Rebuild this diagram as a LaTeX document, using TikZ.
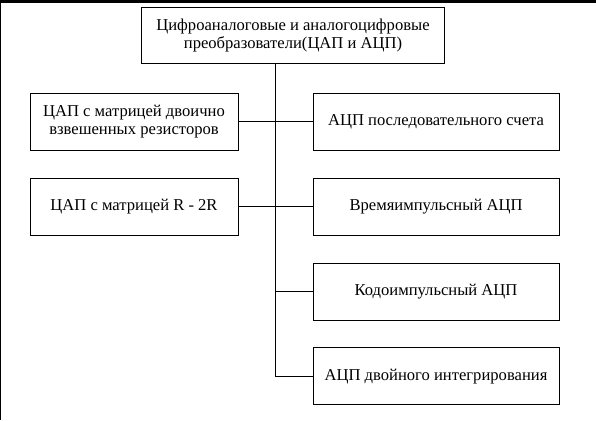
\documentclass[tikz,border=0pt]{standalone}
\usepackage{fontspec}
\setmainfont{Liberation Serif}
\usetikzlibrary{positioning}

\begin{document}
\begin{tikzpicture}[x=1pt, y=-1pt, line width=0.9pt, box/.style={draw, align=center, inner sep=0pt, minimum height=57pt, font=\fontsize{16.6}{18.5}\selectfont}, dac/.style={box, minimum width=208pt}, adc/.style={box, minimum width=246pt}]
\useasboundingbox (0,0) rectangle (596,420);
\draw[line width=3pt] (0,1.5) -- (596,1.5);
\draw[line width=1.2pt] (0.6,0) -- (0.6,420);
\node[box, minimum width=302.6pt, minimum height=56pt] (top) at (293,35.3) {Цифроаналоговые и аналогоцифровые\\преобразователи(ЦАП и АЦП)};
\node[dac] (dacA) at (134,121.8) {ЦАП с матрицей двоично\\взвешенных резисторов};
\node[dac] (dacB) at (134,206.6) {ЦАП с матрицей R - 2R};
\node[adc] (adcA) at (436,121.8) {АЦП последовательного счета};
\node[adc] (adcB) at (436,206.6) {Времяимпульсный АЦП};
\node[adc] (adcC) at (436,291.6) {Кодоимпульсный АЦП};
\node[adc] (adcD) at (436,376.4) {АЦП двойного интегрирования};
\coordinate (trunk) at (275.5,0);
\draw (top.south -| trunk) |- (adcD.west);
\draw (dacA.east) -- (adcA.west);
\draw (dacB.east) -- (adcB.west);
\draw (adcC.west -| trunk) -- (adcC.west);
\end{tikzpicture}
\end{document}
